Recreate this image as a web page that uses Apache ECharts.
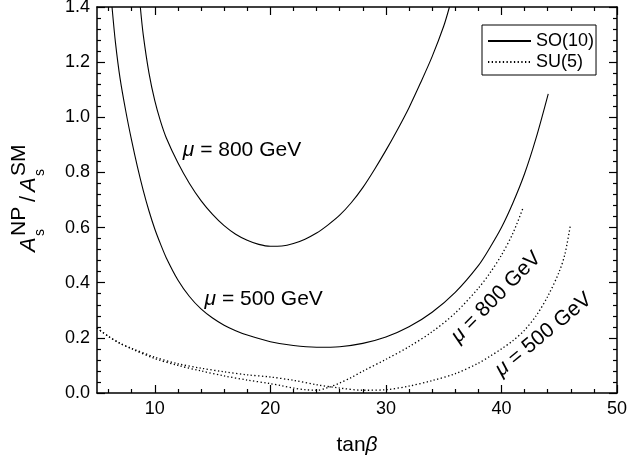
<!DOCTYPE html>
<html><head><meta charset="utf-8">
<script src="https://cdn.jsdelivr.net/npm/echarts@6/dist/echarts.min.js"></script>
<style>html,body{margin:0;padding:0;background:#fff}#c{width:629px;height:456px}</style>
</head><body><div id="c"></div>
<script>
const FONT = '"Liberation Sans", Arial, Helvetica, sans-serif';

// SO(10), mu = 500 GeV (solid)
const so10_500_t = [6.3, 6.6, 7, 7.5, 8, 8.5, 9, 9.5, 10, 10.5, 11, 12, 13, 14, 15, 16, 17, 18, 20, 22, 24, 26, 28, 30, 32, 34, 36, 38, 39, 40, 41, 42, 43, 44.05];
const so10_500_v = [1.4, 1.27, 1.14, 1.02, 0.915, 0.82, 0.735, 0.66, 0.595, 0.54, 0.49, 0.41, 0.35, 0.305, 0.272, 0.246, 0.226, 0.21, 0.186, 0.172, 0.166, 0.168, 0.18, 0.203, 0.24, 0.293, 0.365, 0.462, 0.527, 0.6, 0.69, 0.795, 0.925, 1.085];
// SO(10), mu = 800 GeV (solid)
const so10_800_t = [8.75, 9, 9.5, 10, 10.5, 11, 12, 13, 14, 15, 16, 17, 18, 19, 20, 21, 22, 23, 24, 25, 26, 27, 28, 29, 30, 31, 32, 33, 34, 35, 35.5];
const so10_800_v = [1.4, 1.3, 1.16, 1.06, 0.985, 0.925, 0.835, 0.76, 0.698, 0.648, 0.607, 0.576, 0.554, 0.539, 0.532, 0.533, 0.542, 0.558, 0.58, 0.61, 0.645, 0.69, 0.745, 0.81, 0.88, 0.955, 1.035, 1.125, 1.22, 1.33, 1.4];
// SU(5), mu = 800 GeV (dotted)
const su5_800_t = [5, 6, 7, 8, 10, 12, 14, 16, 18, 20, 21, 22, 23, 24, 25, 26, 27, 28, 30, 32, 34, 36, 38, 39, 40, 41, 41.9];
const su5_800_v = [0.235, 0.205, 0.18, 0.16, 0.125, 0.1, 0.08, 0.062, 0.047, 0.034, 0.026, 0.018, 0.012, 0.01, 0.02, 0.036, 0.056, 0.079, 0.122, 0.168, 0.222, 0.29, 0.38, 0.435, 0.5, 0.58, 0.675];
// SU(5), mu = 500 GeV (dotted)
const su5_500_t = [5, 6, 7, 8, 10, 12, 14, 16, 18, 20, 22, 24, 26, 28, 30, 32, 34, 36, 38, 39, 40, 41, 42, 43, 44, 45, 45.5, 45.95];
const su5_500_v = [0.235, 0.205, 0.18, 0.162, 0.13, 0.106, 0.09, 0.077, 0.066, 0.058, 0.046, 0.03, 0.018, 0.01, 0.012, 0.025, 0.045, 0.07, 0.108, 0.133, 0.16, 0.19, 0.228, 0.28, 0.35, 0.44, 0.505, 0.605];

// axis ticks
const xMin = 5, xMax = 50;
const xCategories = [];
for (let t = xMin; t <= xMax; t++) xCategories.push(String(t));
const xMajorLabels = ['10', '20', '30', '40', '50'];
const yMin = 0, yMax = 1.4, yStep = 0.2;

// annotation texts
const labelTexts = ['μ', ' = 800 GeV', ' = 500 GeV'];

const zip = (a, b) => a.map((t, i) => [t, b[i]]);
const isMajor = (i, v) => xMajorLabels.indexOf(String(v)) >= 0;
const isMinor = (i, v) => (+v) % 2 === 0 && !isMajor(i, v);

const black = '#000';
const catAxis = (pos, interval, len, line, labels) => ({
  type: 'category', position: pos, data: xCategories, boundaryGap: false, gridIndex: 0,
  axisLine: {show: line, onZero: false, lineStyle: {color: black, width: 1.5}},
  axisTick: {show: true, inside: true, length: len, interval: interval, lineStyle: {color: black, width: 1.2}},
  axisLabel: {show: labels, interval: isMajor, color: black, fontSize: 18, fontFamily: FONT, margin: 7},
  splitLine: {show: false}, axisPointer: {show: false}
});

const annot = (t, v, text, rot, align) => ({
  coord: [t, v], symbol: 'circle', symbolSize: 1, itemStyle: {color: 'rgba(0,0,0,0)'},
  label: {
    show: true, position: [0, 0], align: align, verticalAlign: 'middle', rotate: rot,
    formatter: '{i|' + labelTexts[0] + '}' + text, color: black, fontSize: 21, fontFamily: FONT,
    rich: {i: {fontStyle: 'italic', fontSize: 21, fontFamily: FONT, color: black}}
  }
});

const lineSeries = (name, data, dotted, marks) => ({
  type: 'line', name: name, xAxisIndex: 0, yAxisIndex: 0, data: data,
  symbol: 'none', smooth: 0.3, silent: true, animation: false,
  lineStyle: {color: black, width: dotted ? 1.3 : 1.1, type: dotted ? [1.3, 2.4] : 'solid'},
  itemStyle: {color: black},
  markPoint: marks ? {silent: true, animation: false, data: marks} : undefined
});

const chart = echarts.init(document.getElementById('c'), null, {renderer: 'canvas'});
chart.setOption({
  animation: false,
  backgroundColor: '#fff',
  grid: {left: 97, right: 12, top: 7, bottom: 63, containLabel: false, outerBoundsMode: 'none'},
  legend: {
    orient: 'vertical', left: 482, top: 25, data: ['SO(10)', 'SU(5)'],
    icon: 'inherit',
    itemWidth: 43, itemHeight: 14, itemGap: 1, padding: [6, 2, 3, 5],
    borderColor: black, borderWidth: 1, backgroundColor: '#fff',
    itemStyle: {opacity: 0},
    textStyle: {color: black, fontSize: 18, fontFamily: FONT, lineHeight: 20, padding: [0, 0, 0, 0]},
    selectedMode: false
  },
  xAxis: [
    {type: 'value', min: xMin, max: xMax, show: false, gridIndex: 0},
    Object.assign(catAxis('bottom', isMajor, 8, true, true), {
      name: 'tan{b|β}', nameLocation: 'middle', nameGap: 42,
      nameTextStyle: {color: black, fontSize: 21, fontFamily: FONT,
        rich: {b: {fontStyle: 'italic', fontSize: 21, fontFamily: FONT, color: black}}}
    }),
    catAxis('bottom', isMinor, 4, false, false),
    catAxis('top', isMajor, 8, true, false),
    catAxis('top', isMinor, 4, false, false)
  ],
  yAxis: [
    {
      type: 'value', min: yMin, max: yMax, interval: yStep, position: 'left',
      axisLine: {show: true, onZero: false, lineStyle: {color: black, width: 1.5}},
      axisTick: {show: true, inside: true, length: 8, lineStyle: {color: black, width: 1.2}},
      minorTick: {show: true, splitNumber: 5, length: 4, lineStyle: {color: black, width: 1.2}},
      axisLabel: {color: black, fontSize: 18, fontFamily: FONT, margin: 7, formatter: v => v.toFixed(1)},
      splitLine: {show: false}, minorSplitLine: {show: false}
    },
    {
      type: 'value', min: yMin, max: yMax, interval: yStep, position: 'right',
      axisLine: {show: true, onZero: false, lineStyle: {color: black, width: 1.5}},
      axisTick: {show: true, inside: true, length: 8, lineStyle: {color: black, width: 1.2}},
      minorTick: {show: true, splitNumber: 5, length: 4, lineStyle: {color: black, width: 1.2}},
      axisLabel: {show: false}, splitLine: {show: false}, minorSplitLine: {show: false}
    }
  ],
  series: [
    lineSeries('SO(10)', zip(so10_500_t, so10_500_v), false, [annot(14.35, 0.34, labelTexts[2], 0, 'left')]),
    lineSeries('SO(10)', zip(so10_800_t, so10_800_v), false, [annot(12.47, 0.88, labelTexts[1], 0, 'left')]),
    lineSeries('SU(5)', zip(su5_800_t, su5_800_v), true, [annot(39.58, 0.346, labelTexts[1], 45.5, 'center')]),
    lineSeries('SU(5)', zip(su5_500_t, su5_500_v), true, [annot(43.68, 0.21, labelTexts[2], 39.5, 'center')])
  ],
  graphic: [{
    type: 'group', x: 37, y: 252, rotation: Math.PI / 2, silent: true,
    children: [
      {type: 'text', x: 0, y: -8, style: {text: 'A', fontSize: 22, fontStyle: 'italic', fontFamily: FONT, fill: black, align: 'left', verticalAlign: 'middle'}},
      {type: 'text', x: 16, y: 3, style: {text: 's', fontSize: 14, fontFamily: FONT, fill: black, align: 'left', verticalAlign: 'middle'}},
      {type: 'text', x: 16, y: -18, style: {text: 'NP', fontSize: 21, fontFamily: FONT, fill: black, align: 'left', verticalAlign: 'middle'}},
      {type: 'text', x: 50, y: -8, style: {text: '/', fontSize: 22, fontFamily: FONT, fill: black, align: 'left', verticalAlign: 'middle'}},
      {type: 'text', x: 60, y: -8, style: {text: 'A', fontSize: 22, fontStyle: 'italic', fontFamily: FONT, fill: black, align: 'left', verticalAlign: 'middle'}},
      {type: 'text', x: 76, y: 3, style: {text: 's', fontSize: 14, fontFamily: FONT, fill: black, align: 'left', verticalAlign: 'middle'}},
      {type: 'text', x: 76, y: -18, style: {text: 'SM', fontSize: 21, fontFamily: FONT, fill: black, align: 'left', verticalAlign: 'middle'}}
    ]
  }]
});
</script>
</body></html>
